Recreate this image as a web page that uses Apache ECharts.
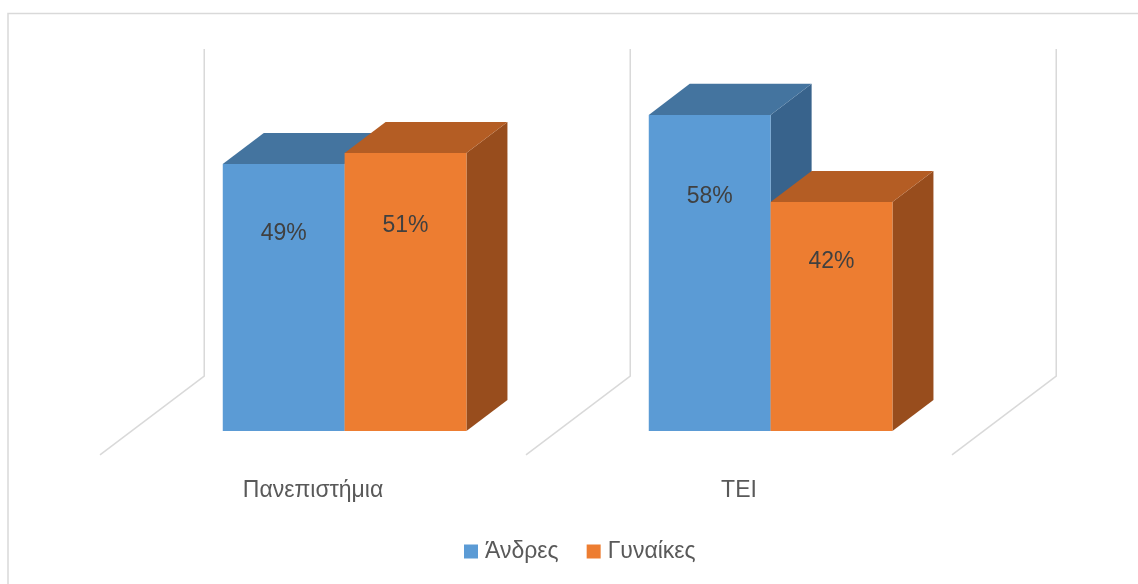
<!DOCTYPE html>
<html>
<head>
<meta charset="utf-8">
<script src="https://cdn.jsdelivr.net/npm/echarts@6/dist/echarts.min.js"></script>
<style>
html,body{margin:0;padding:0;background:#fff;}
#chart{width:1138px;height:584px;}
</style>
</head>
<body>
<div id="chart"></div>
<script>
// ---- data ----
const categories = ['Πανεπιστήμια', 'ΤΕΙ'];
const seriesNames = ['Άνδρες', 'Γυναίκες'];
const menValues = [49, 58];
const womenValues = [51, 42];
const valueMax = 60;

// ---- styles ----
const FONT = 'Liberation Sans';
const FS = 23;
const faceColors = [
  { front: '#5B9BD5', top: '#44749F', side: '#38638C' },
  { front: '#ED7D31', top: '#B45D24', side: '#984D1D' }
];
const BAR_FRAC = 0.286;   // bar width / category band
const DEPTH_FRAC = 0.0963; // bar depth (x) / band
const GAP_FRAC = 0.0742;   // floor gap (x) / band
const SLOPE = 0.757;       // dy/dx of depth direction

const chart = echarts.init(document.getElementById('chart'), null, { renderer: 'canvas' });

function barItem(seriesIdx) {
  return function (params, api) {
    const cat = api.value(0), val = api.value(1);
    const base = api.coord([cat, 0]);
    const top = api.coord([cat, val]);
    const band = api.size([1, 0])[0];
    const bw = band * BAR_FRAC;
    const x0 = base[0] - bw + seriesIdx * bw;
    const x1 = x0 + bw;
    const dx = band * DEPTH_FRAC, dy = -dx * SLOPE;
    const yt = top[1], yb = base[1];
    const c = faceColors[seriesIdx];
    return {
      type: 'group',
      children: [
        { type: 'polygon', shape: { points: [[x1, yt], [x1 + dx, yt + dy], [x1 + dx, yb + dy], [x1, yb]] },
          style: { fill: c.side } },
        { type: 'polygon', shape: { points: [[x0, yt], [x1, yt], [x1 + dx, yt + dy], [x0 + dx, yt + dy]] },
          style: { fill: c.top } },
        { type: 'rect', shape: { x: x0, y: yt, width: bw, height: yb - yt },
          style: { fill: c.front } },
        { type: 'text', x: (x0 + x1) / 2, y: yt + (yb - yt) * 0.26,
          style: { text: val + '%', fill: '#404040', font: FS + 'px "' + FONT + '"', align: 'center', verticalAlign: 'middle' } }
      ]
    };
  };
}

function gridItem(params, api) {
  const band = api.size([1, 0])[0];
  const c0 = api.coord([0, 0]);
  const cTop = api.coord([0, valueMax]);
  const gap = band * GAP_FRAC, depth = band * DEPTH_FRAC;
  const children = [];
  for (let i = 0; i <= categories.length; i++) {
    const x = c0[0] - band / 2 + i * band;
    const fx = x - gap, fy = c0[1] + gap * SLOPE;
    const bOff = gap + depth;
    const bx = x + bOff, by = c0[1] - bOff * SLOPE;
    const ty = cTop[1] - bOff * SLOPE;
    children.push({ type: 'polyline', shape: { points: [[fx, fy], [bx, by], [bx, ty]] },
      style: { stroke: '#D9D9D9', lineWidth: 1.5, fill: null } });
  }
  return { type: 'group', children: children };
}

const option = {
  animation: false,
  backgroundColor: '#fff',
  textStyle: { fontFamily: FONT },
  graphic: [{
    type: 'rect', shape: { x: 8, y: 13.5, width: 1160, height: 600 },
    style: { fill: null, stroke: '#D9D9D9', lineWidth: 1.5 }, z: -10
  }],
  grid: [
    { left: 131.6, top: 104, width: 852, height: 327 },
    { left: 100, top: 128, width: 852, height: 327 }
  ],
  xAxis: [
    { type: 'category', data: categories, gridIndex: 0, show: false },
    { type: 'category', data: categories, gridIndex: 1,
      axisLine: { show: false }, axisTick: { show: false },
      axisLabel: { margin: 24, fontSize: FS, color: '#595959', fontFamily: FONT } }
  ],
  yAxis: [
    { type: 'value', min: 0, max: valueMax, gridIndex: 0, show: false },
    { type: 'value', min: 0, max: valueMax, gridIndex: 1, show: false }
  ],
  legend: {
    data: seriesNames,
    left: 459, top: 535,
    icon: 'rect', itemWidth: 14, itemHeight: 14, itemGap: 28,
    textStyle: { fontSize: FS, color: '#595959', fontFamily: FONT, padding: [0, 0, 0, 2] }
  },
  series: [
    { type: 'custom', name: seriesNames[0], xAxisIndex: 0, yAxisIndex: 0,
      itemStyle: { color: faceColors[0].front },
      data: categories.map((c, i) => [i, menValues[i]]),
      encode: { x: 0, y: 1 }, renderItem: barItem(0), z: 2 },
    { type: 'custom', name: seriesNames[1], xAxisIndex: 0, yAxisIndex: 0,
      itemStyle: { color: faceColors[1].front },
      data: categories.map((c, i) => [i, womenValues[i]]),
      encode: { x: 0, y: 1 }, renderItem: barItem(1), z: 2 },
    { type: 'custom', name: 'grid', xAxisIndex: 0, yAxisIndex: 0,
      data: [[0, 0]], encode: { x: 0, y: 1 }, renderItem: gridItem, z: 1, silent: true }
  ]
};
chart.setOption(option);
</script>
</body>
</html>
